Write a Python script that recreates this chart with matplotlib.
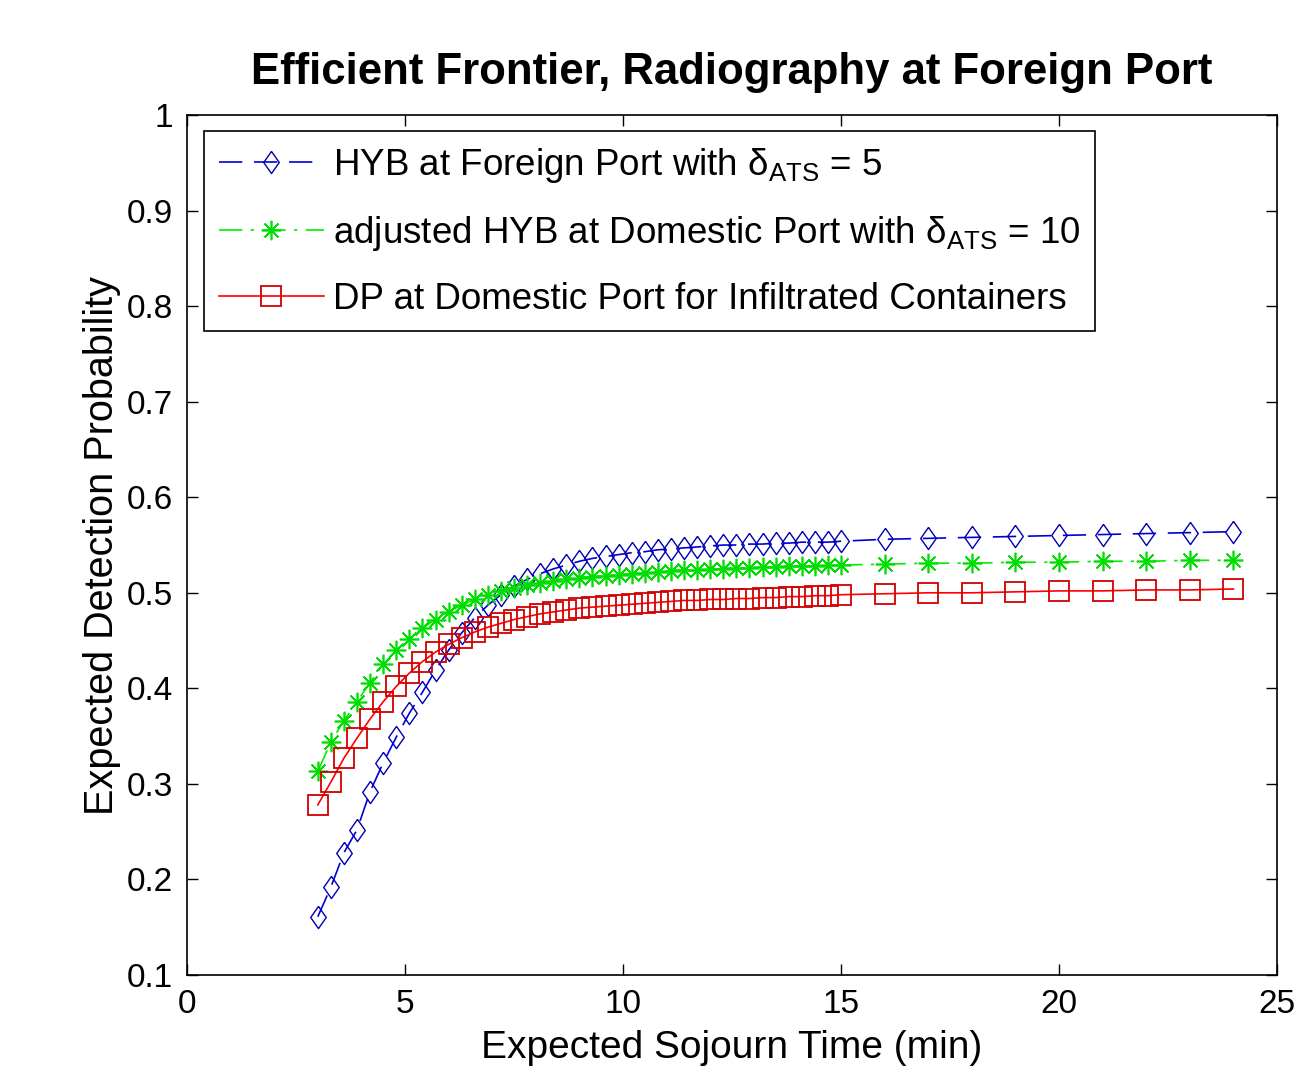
import matplotlib
matplotlib.use("Agg")
import matplotlib.pyplot as plt

plt.rcParams['font.family'] = ['Liberation Sans', 'DejaVu Sans']
plt.rcParams['mathtext.fontset'] = 'custom'
plt.rcParams['mathtext.rm'] = 'Liberation Sans'
plt.rcParams['mathtext.it'] = 'Liberation Sans:italic'
plt.rcParams['mathtext.bf'] = 'Liberation Sans:bold'

# ---------------- data ----------------
x_time = [3.0, 3.3, 3.6, 3.9, 4.2, 4.5, 4.8, 5.1, 5.4, 5.7,
          6.0, 6.3, 6.6, 6.9, 7.2, 7.5, 7.8, 8.1, 8.4, 8.7,
          9.0, 9.3, 9.6, 9.9, 10.2, 10.5, 10.8, 11.1, 11.4, 11.7,
          12.0, 12.3, 12.6, 12.9, 13.2, 13.5, 13.8, 14.1, 14.4, 14.7,
          15.0, 16, 17, 18, 19, 20, 21, 22, 23, 24]

hyb_foreign = [0.161, 0.192, 0.228, 0.252, 0.292, 0.322, 0.349, 0.374, 0.396, 0.419,
               0.440, 0.458, 0.474, 0.487, 0.498, 0.507, 0.514, 0.520, 0.525, 0.529,
               0.533, 0.536, 0.538, 0.540, 0.542, 0.543, 0.545, 0.546, 0.547, 0.548,
               0.549, 0.550, 0.550, 0.551, 0.551, 0.552, 0.552, 0.553, 0.553, 0.553,
               0.554, 0.556, 0.557, 0.558, 0.559, 0.560, 0.561, 0.562, 0.563, 0.564]

hyb_domestic = [0.313, 0.344, 0.366, 0.386, 0.406, 0.425, 0.440, 0.452, 0.463, 0.472,
                0.480, 0.487, 0.493, 0.498, 0.502, 0.505, 0.508, 0.510, 0.512, 0.514,
                0.516, 0.517, 0.518, 0.519, 0.520, 0.521, 0.522, 0.523, 0.524, 0.524,
                0.525, 0.525, 0.526, 0.526, 0.527, 0.527, 0.528, 0.528, 0.528, 0.529,
                0.529, 0.530, 0.531, 0.531, 0.532, 0.532, 0.533, 0.533, 0.534, 0.534]

dp_domestic = [0.278, 0.302, 0.327, 0.348, 0.368, 0.386, 0.402, 0.416, 0.428, 0.438,
               0.446, 0.453, 0.459, 0.464, 0.468, 0.472, 0.475, 0.478, 0.480, 0.482,
               0.484, 0.485, 0.486, 0.487, 0.488, 0.489, 0.490, 0.491, 0.492, 0.492,
               0.493, 0.493, 0.494, 0.494, 0.495, 0.495, 0.496, 0.496, 0.497, 0.497,
               0.498, 0.499, 0.500, 0.500, 0.501, 0.502, 0.502, 0.503, 0.503, 0.504]

labels = ["HYB at Foreign Port with δ$_{\\mathrm{ATS}}$ = 5",
          "adjusted HYB at Domestic Port with δ$_{\\mathrm{ATS}}$ = 10",
          "DP at Domestic Port for Infiltrated Containers"]

x_ticks = [0, 5, 10, 15, 20, 25]
y_ticks = [0.1, 0.2, 0.3, 0.4, 0.5, 0.6, 0.7, 0.8, 0.9, 1.0]
y_ticklabels = ["0.1", "0.2", "0.3", "0.4", "0.5", "0.6", "0.7", "0.8", "0.9", "1"]

# ---------------- figure ----------------
fig = plt.figure(figsize=(13.13, 10.69), dpi=100)
ax = fig.add_axes([0.1424, 0.0879, 0.8302, 0.8045])

diamond = [(0, 1), (0.7, 0), (0, -1), (-0.7, 0), (0, 1)]

l1, = ax.plot(x_time, hyb_foreign, linestyle=(0, (14, 7)), color='#0000dd', linewidth=1.2,
              marker=diamond, markersize=16, markerfacecolor='none',
              markeredgecolor='#0000b0', markeredgewidth=1.0, label=labels[0])
l2, = ax.plot(x_time, hyb_domestic, linestyle=(0, (14, 5, 2, 5)), color='#00ee00', linewidth=1.2,
              marker=(8, 2, 0), markersize=14, markeredgecolor='#00dd00',
              markeredgewidth=1.2, label=labels[1])
l3, = ax.plot(x_time, dp_domestic, linestyle='-', color='#ff0000', linewidth=1.2,
              marker='s', markersize=15, markerfacecolor='none',
              markeredgecolor='#d00000', markeredgewidth=1.3, label=labels[2])

ax.set_xlim(0, 25)
ax.set_ylim(0.1, 1.0)
ax.set_xticks(x_ticks)
ax.set_yticks(y_ticks)
ax.set_yticklabels(y_ticklabels)
ax.tick_params(direction='in', top=True, right=True, length=8, width=1.0,
               labelsize=24, pad=10, colors='black')
for s in ax.spines.values():
    s.set_linewidth(1.2)

ax.set_title("Efficient Frontier, Radiography at Foreign Port",
             fontsize=31.5, fontweight='bold', pad=22)
ax.set_xlabel("Expected Sojourn Time (min)", fontsize=28, labelpad=7)
ax.set_ylabel("Expected Detection Probability", fontsize=28.5, labelpad=4)

leg = ax.legend(loc='upper left', bbox_to_anchor=(0.0156, 0.981),
                borderaxespad=0, fontsize=26.5, numpoints=1, handlelength=2.85,
                handletextpad=0.25, labelspacing=0.78, borderpad=0.4,
                fancybox=False, framealpha=1, edgecolor='black')
leg.get_frame().set_linewidth(1.2)

fig.savefig("out.png", dpi=100)
